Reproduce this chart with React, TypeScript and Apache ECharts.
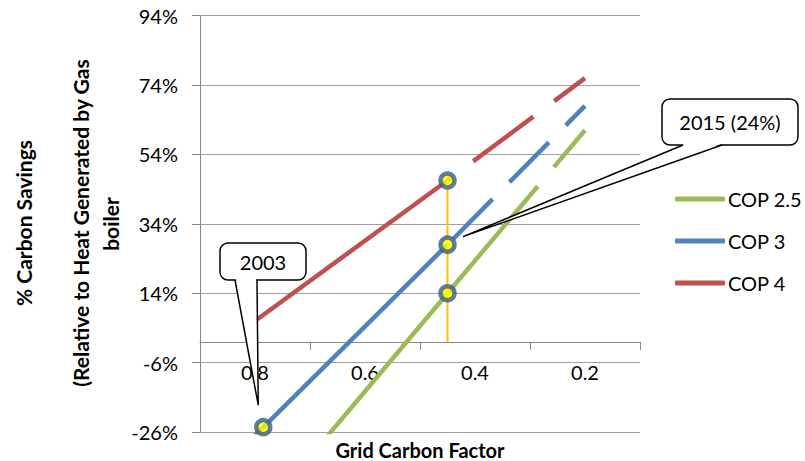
import React, { useEffect, useRef } from "react";
import * as echarts from "echarts";

// ---- data ----
const gridFactors = [0.8, 0.45, 0.2];
const cop25 = [-52, 14, 61];
const cop3 = [-27, 28, 68];
const cop4 = [6, 46.5, 76];
const seriesNames = ["COP 2.5", "COP 3", "COP 4"];
const xLabelValues = [0.8, 0.6, 0.4, 0.2];
const yMin = -26;
const yMax = 94;
const yStep = 20;
const point2003 = [0.785, -24.6];
const callout2003 = "2003";
const callout2015 = "2015 (24%)";
const yTitle1 = "% Carbon Savings";
const yTitle2 = "(Relative to Heat Generated by Gas";
const yTitle3 = "boiler";
const xTitle = "Grid Carbon Factor";

// ---- styles ----
const FONT = "Lato";
const colors = ["#9BBB59", "#4F81BD", "#C0504D"];
const dashes = [[140, 25], [56, 24], [75, 26]];
const dashOffsets = [0, 72, 69];

export default function App() {
  const ref = useRef<HTMLDivElement>(null);
  useEffect(() => {
    if (!ref.current) return;
    const chart = echarts.init(ref.current, undefined, { renderer: "svg" });
    const valuesBySeries = [cop25, cop3, cop4];
    const series: any[] = [];
    valuesBySeries.forEach((vals, i) => {
      series.push({
        name: seriesNames[i],
        type: "line",
        xAxisIndex: 0,
        yAxisIndex: 0,
        data: [
          [gridFactors[0], vals[0]],
          [gridFactors[1], vals[1]],
        ],
        symbol: "none",
        lineStyle: { color: colors[i], width: 4.5, cap: "butt" },
        itemStyle: { color: colors[i] },
        z: 2,
      });
      series.push({
        name: seriesNames[i],
        type: "line",
        xAxisIndex: 0,
        yAxisIndex: 0,
        data: [
          [gridFactors[1], vals[1]],
          [gridFactors[2], vals[2]],
        ],
        symbol: "none",
        lineStyle: {
          color: colors[i],
          width: 4.5,
          type: dashes[i],
          dashOffset: dashOffsets[i],
          cap: "butt",
        },
        itemStyle: { color: colors[i] },
        z: 2,
      });
    });
    // drop line at 2015
    series.push({
      type: "line",
      xAxisIndex: 0,
      yAxisIndex: 0,
      data: [
        [gridFactors[1], cop4[1]],
        [gridFactors[1], 0],
      ],
      symbol: "none",
      lineStyle: { color: "#FFC000", width: 2 },
      z: 3,
    });
    // markers
    series.push({
      type: "scatter",
      xAxisIndex: 0,
      yAxisIndex: 0,
      data: [
        point2003,
        [gridFactors[1], cop4[1]],
        [gridFactors[1], cop3[1]],
        [gridFactors[1], cop25[1]],
      ],
      symbol: "circle",
      symbolSize: 14,
      itemStyle: { color: "#FFFF00", borderColor: "#385D8A", borderWidth: 4.5 },
      z: 5,
    });

    const option: any = {
      animation: false,
      backgroundColor: "#fff",
      textStyle: { fontFamily: FONT },
      grid: {
        left: 200,
        right: 165,
        top: 15.7,
        bottom: 29,
        containLabel: false,
        outerBoundsMode: "none",
      },
      legend: {
        data: seriesNames,
        orient: "vertical",
        left: 670,
        top: 184,
        itemWidth: 50,
        itemHeight: 5,
        itemGap: 22,
        icon: "roundRect",
        selectedMode: false,
        textStyle: { fontSize: 20, color: "#000", fontFamily: FONT, padding: [0, 0, 0, -2] },
      },
      xAxis: [
        {
          type: "value",
          min: 0.1,
          max: 0.9,
          interval: 0.1,
          inverse: true,
          position: "bottom",
          axisLine: { show: true, onZero: true, lineStyle: { color: "#868686", width: 1 } },
          axisTick: { show: false },
          splitLine: { show: false },
          axisLabel: {
            margin: 20,
            fontSize: 20,
            color: "#000",
            fontFamily: FONT,
            hideOverlap: false,
            formatter: (v: number) => {
              const k = Math.round(v * 10);
              return xLabelValues.some((x) => Math.round(x * 10) === k) ? (k / 10).toFixed(1) : "";
            },
          },
        },
        {
          type: "value",
          min: 0.1,
          max: 0.9,
          interval: 0.2,
          inverse: true,
          position: "bottom",
          axisLine: { show: false, onZero: true, onZeroAxisIndex: 0 },
          axisTick: { show: true, length: 8, lineStyle: { color: "#868686" } },
          axisLabel: { show: false },
          splitLine: { show: false },
        },
      ],
      yAxis: {
        type: "value",
        min: yMin,
        max: yMax,
        interval: yStep,
        axisLine: { show: true, lineStyle: { color: "#868686" } },
        axisTick: { show: true, length: 8, lineStyle: { color: "#868686" } },
        splitLine: { show: true, lineStyle: { color: "#A0A0A0", width: 1 } },
        axisLabel: {
          margin: 22,
          fontSize: 20,
          color: "#000",
          fontFamily: FONT,
          formatter: (v: number) => `${v}%`,
        },
      },
      series,
    };
    chart.setOption(option);

    // labels of an on-zero axis stay at the grid edge: pull them up to the zero line
    const zeroPx = chart.convertToPixel({ yAxisIndex: 0 }, 0) as number;
    const bottomPx = chart.convertToPixel({ yAxisIndex: 0 }, yMin) as number;
    chart.setOption({
      xAxis: [{ axisLabel: { margin: 20 - (bottomPx - zeroPx) } }, {}],
    });

    const p03 = chart.convertToPixel({ xAxisIndex: 0, yAxisIndex: 0 }, point2003) as number[];
    const p15 = chart.convertToPixel({ xAxisIndex: 0, yAxisIndex: 0 }, [gridFactors[1], cop3[1]]) as number[];
    const tip03 = [p03[0] - 5, p03[1] - 22];
    const tip15 = [p15[0] + 15.5, p15[1] - 8];

    const titleStyle = (text: string, size: number) => ({
      text,
      fontSize: size,
      fontWeight: "bold",
      fontFamily: FONT,
      fill: "#000",
      textAlign: "center",
      textVerticalAlign: "middle",
    });

    const callout = (
      box: { x: number; y: number; w: number; h: number },
      base: [number, number],
      tip: number[],
      text: string
    ) => [
      {
        type: "rect",
        shape: { x: box.x, y: box.y, width: box.w, height: box.h, r: 8 },
        style: { fill: "#fff", stroke: "#000", lineWidth: 1.5 },
        z: 100,
      },
      {
        type: "polygon",
        shape: {
          points: [
            [base[0] + 1, box.y + box.h - 1],
            tip,
            [base[1] - 1, box.y + box.h - 1],
          ],
        },
        style: { fill: "#fff" },
        z: 101,
      },
      {
        type: "polyline",
        shape: {
          points: [
            [base[0], box.y + box.h],
            tip,
            [base[1], box.y + box.h],
          ],
        },
        style: { stroke: "#000", lineWidth: 1.5, fill: null },
        z: 102,
      },
      {
        type: "text",
        x: box.x + box.w / 2,
        y: box.y + box.h / 2,
        style: {
          text,
          fontSize: 20,
          fontFamily: FONT,
          fill: "#000",
          textAlign: "center",
          textVerticalAlign: "middle",
        },
        z: 103,
      },
    ];

    chart.setOption({
      graphic: [
        { type: "text", x: 23, y: 223, rotation: Math.PI / 2, style: titleStyle(yTitle1, 21) },
        { type: "text", x: 80, y: 223, rotation: Math.PI / 2, style: titleStyle(yTitle2, 21) },
        { type: "text", x: 110, y: 224, rotation: Math.PI / 2, style: titleStyle(yTitle3, 21) },
        { type: "text", x: 420, y: 449.5, style: titleStyle(xTitle, 20) },
        ...callout({ x: 220, y: 243, w: 86, h: 37 }, [235, 257], tip03, callout2003),
        ...callout({ x: 662, y: 99, w: 136, h: 46 }, [683, 722], tip15, callout2015),
      ],
    });

    return () => chart.dispose();
  }, []);
  return (
    <div
      ref={ref}
      style={{ position: "fixed", left: 0, top: 0, width: 805, height: 461, background: "#fff" }}
    />
  );
}
